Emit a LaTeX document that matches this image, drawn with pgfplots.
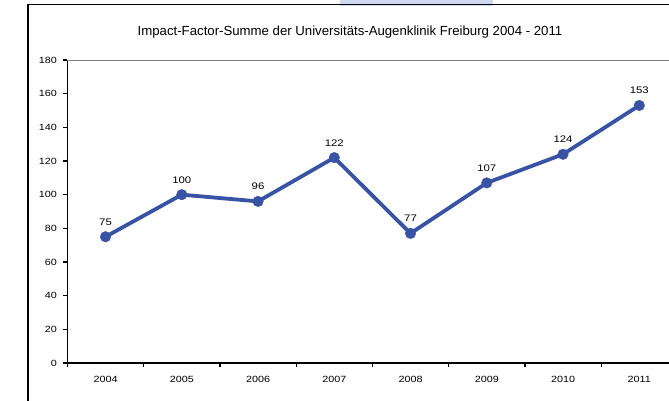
\documentclass[border=0pt]{standalone}
\usepackage{fontspec}
\setmainfont{Liberation Sans}
\newfontfamily\widefont[FakeStretch=1.2]{Liberation Sans}
\usepackage{pgfplots}
\pgfplotsset{compat=1.18}
\definecolor{linecol}{RGB}{57,83,164}
\definecolor{strip}{RGB}{206,216,238}
\definecolor{topgrey}{RGB}{128,128,128}
\begin{document}
\begin{tikzpicture}
\useasboundingbox (0pt,0pt) rectangle (669pt,400pt);
\clip (0pt,0pt) rectangle (669pt,400pt);
\fill[strip] (340pt,394pt) rectangle (493pt,400pt);
\draw[line width=1.5pt] (28pt,-10pt) -- (28pt,395.3pt) -- (720pt,395.3pt);
\node[font=\fontsize{13.2}{15}\selectfont] at (350pt,368pt) {Impact-Factor-Summe der Universitäts-Augenklinik Freiburg 2004 - 2011};
\begin{axis}[
  at={(67.4pt,37pt)}, anchor=south west,
  scale only axis, width=610pt, height=303pt,
  xmin=-0.5, xmax=7.5, ymin=0, ymax=180,
  axis x line*=bottom, axis y line*=left,
  x axis line style={line width=2.2pt, -},
  y axis line style={line width=1.7pt, -},
  xtick={-0.5,0.5,...,7.5},
  x tick label as interval,
  xticklabels={2004,2005,2006,2007,2008,2009,2010,2011},
  ytick={0,20,...,180},
  tick align=outside,
  major tick length=4pt,
  tick style={black, line width=1.2pt},
  /pgf/number format/assume math mode=true,
  ticklabel style={font=\widefont\fontsize{9}{10}\selectfont},
  xticklabel style={yshift=-6pt},
  yticklabel style={xshift=-3pt},
  clip=false,
  nodes near coords,
  every node near coord/.append style={font=\widefont\fontsize{9.5}{11}\selectfont, black, yshift=8pt},
]
\draw[topgrey, line width=0.8pt] (rel axis cs:0,1) -- (rel axis cs:1.1,1);
\addplot[linecol, line width=3.8pt, mark=*, mark size=5.3pt, mark options={solid, fill=linecol, draw=linecol, line width=0.4pt}] coordinates {
(0,75) (1,100) (2,96) (3,122) (4,77) (5,107) (6,124) (7,153)
};
\end{axis}
\end{tikzpicture}
\end{document}
